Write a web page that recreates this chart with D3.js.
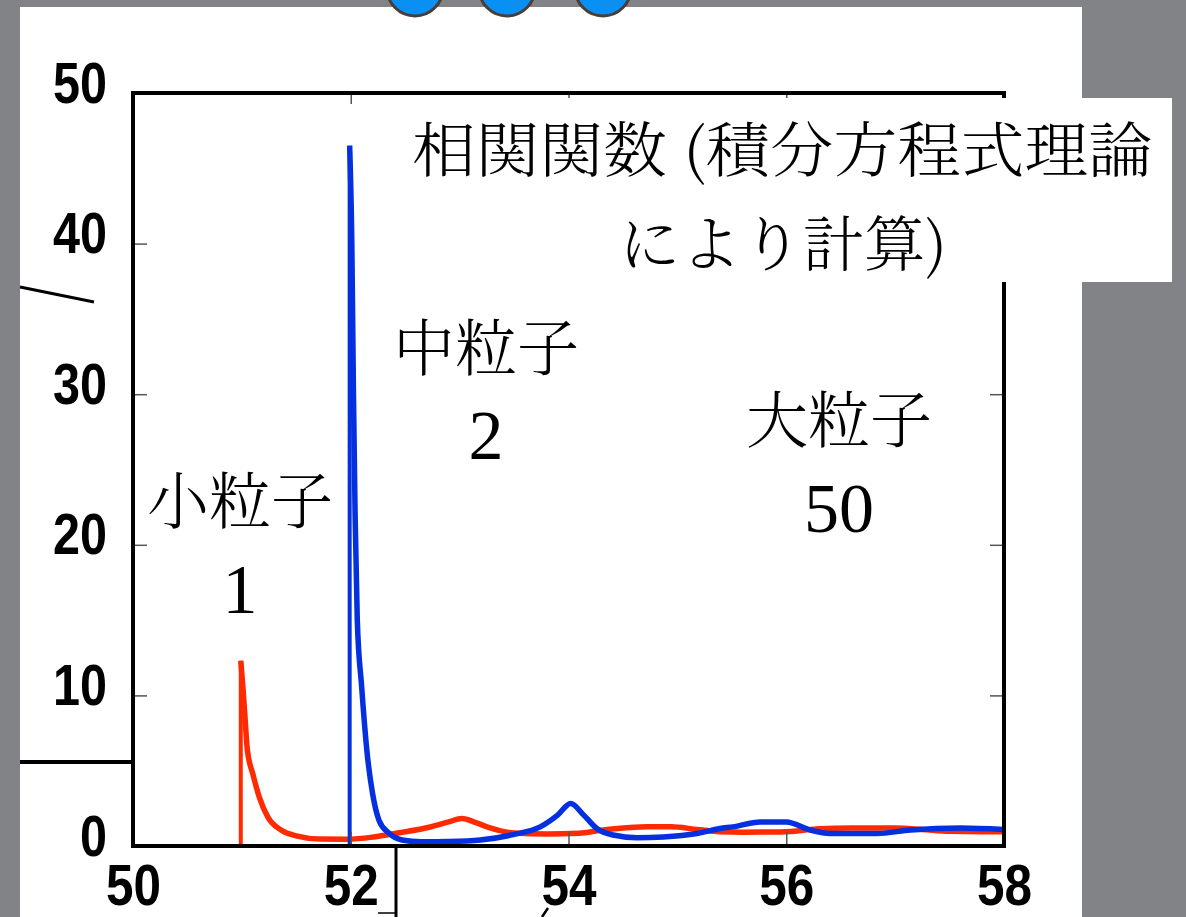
<!DOCTYPE html>
<html>
<head>
<meta charset="utf-8">
<script src="https://cdn.jsdelivr.net/npm/d3@7"></script>
<style>
  html, body { margin: 0; padding: 0; background: #818386; }
  svg { display: block; }
</style>
</head>
<body>
<svg id="chart" width="1186" height="917"></svg>
<script>
// ---------- data ----------
const xTicks = [50, 52, 54, 56, 58];
const yTicks = [0, 10, 20, 30, 40, 50];
const xDomain = [50, 58];
const yDomain = [0, 50];

// small particle (diameter 1) correlation function – red
const smallR = [50.99, 50.99, 51.01, 51.03, 51.05, 51.10, 51.16, 51.24, 51.36, 51.51, 51.72, 51.97,
  52.21, 52.43, 52.73, 52.90, 53.02, 53.15, 53.28, 53.50, 53.80, 54.10, 54.30, 54.45, 54.72,
  54.94, 55.18, 55.39, 55.60, 55.90, 56.10, 56.30, 56.60, 57.00, 57.25, 57.50, 57.80, 58.00];
const smallG = [0, 12.3, 10.5, 8.4, 6.4, 4.8, 3.25, 1.9, 1.06, 0.66, 0.46, 0.45,
  0.6, 0.86, 1.26, 1.6, 1.83, 1.55, 1.2, 0.86, 0.8, 0.85, 1.05, 1.16, 1.27,
  1.27, 1.1, 0.95, 0.92, 0.93, 1.0, 1.15, 1.2, 1.2, 1.1, 0.98, 0.95, 0.95];

// medium particle (diameter 2) correlation function – blue
const mediumR = [51.99, 51.99, 52.01, 52.025, 52.04, 52.06, 52.10, 52.15, 52.20, 52.26, 52.35, 52.47,
  52.65, 52.90, 53.19, 53.50, 53.74, 53.90, 54.02, 54.14, 54.26, 54.41, 54.63, 54.87, 55.18,
  55.39, 55.51, 55.76, 56.00, 56.22, 56.40, 56.83, 57.14, 57.60, 58.00];
const mediumG = [0, 46.5, 40, 30, 22, 15, 10.6, 6.2, 3.5, 1.7, 0.86, 0.4,
  0.28, 0.3, 0.4, 0.77, 1.27, 2.05, 2.82, 2.05, 1.16, 0.73, 0.55, 0.6, 0.83,
  1.16, 1.27, 1.6, 1.6, 1.06, 0.83, 0.83, 1.06, 1.2, 1.1];

const titleLines = ["相関関数 (積分方程式理論", "により計算)"];
const particleNames = ["小粒子", "中粒子", "大粒子"];
const particleSizes = ["1", "2", "50"];

// ---------- layout ----------
const svg = d3.select("#chart");
const W = 1186, H = 917;
const plot = { left: 133, right: 1004, top: 93, bottom: 846 };

const x = d3.scaleLinear().domain(xDomain).range([plot.left, plot.right]);
const y = d3.scaleLinear().domain(yDomain).range([plot.bottom, plot.top]);

// background + white slide panel
svg.append("rect").attr("width", W).attr("height", H).attr("fill", "#818386");
svg.append("rect").attr("x", 20).attr("y", 7).attr("width", 1062).attr("height", H).attr("fill", "#ffffff");

// decorative circles at top
[415, 507, 603].forEach(cx => {
  svg.append("circle").attr("cx", cx).attr("cy", -12).attr("r", 28)
    .attr("fill", "#0a8ff2").attr("stroke", "#4a3d38").attr("stroke-width", 3);
});

// ---------- series ----------
// vertical jump at contact distance, then a smooth curve
const vLine = d3.line().x(d => x(d[0])).y(d => y(d[1]));
const cLine = d3.line().x(d => x(d[0])).y(d => y(d[1])).curve(d3.curveMonotoneX);
const series = [
  { r: smallR, g: smallG, color: "#ff2a00" },
  { r: mediumR, g: mediumG, color: "#0530e0" }
];
series.forEach(s => {
  const pts = s.r.map((r, i) => [r, s.g[i]]);
  const g = svg.append("g").attr("fill", "none").attr("stroke", s.color)
    .attr("stroke-linejoin", "round").attr("stroke-linecap", "butt");
  g.append("path").datum(pts.slice(0, 2)).attr("d", vLine).attr("stroke-width", 4);
  g.append("path").datum(pts.slice(1)).attr("d", cLine).attr("stroke-width", 5.5);
});

// ---------- axes (inward ticks) ----------
const tickColor = "#555";
function styleTicks(g) {
  g.select(".domain").remove();
  g.selectAll(".tick line").attr("stroke", tickColor).attr("stroke-width", 1.5);
}
const labelFont = "'Liberation Sans', Arial, sans-serif";

const gLeft = svg.append("g").attr("transform", `translate(${plot.left},0)`)
  .call(d3.axisLeft(y).tickValues(yTicks).tickSizeInner(-14).tickSizeOuter(0).tickPadding(26));
styleTicks(gLeft);
gLeft.selectAll("text")
  .attr("dy", 9)
  .attr("font-family", labelFont).attr("font-weight", "bold").attr("font-size", 58)
  .attr("fill", "#000")
  .attr("textLength", d => String(d).length * 27)
  .attr("lengthAdjust", "spacingAndGlyphs");

const gBottom = svg.append("g").attr("transform", `translate(0,${plot.bottom})`)
  .call(d3.axisBottom(x).tickValues(xTicks).tickSizeInner(-14).tickSizeOuter(0).tickPadding(0));
styleTicks(gBottom);
gBottom.selectAll("text")
  .attr("dy", 0).attr("y", 59)
  .attr("font-family", labelFont).attr("font-weight", "bold").attr("font-size", 58)
  .attr("fill", "#000")
  .attr("textLength", d => String(d).length * 27.5)
  .attr("lengthAdjust", "spacingAndGlyphs");

const gRight = svg.append("g").attr("transform", `translate(${plot.right},0)`)
  .call(d3.axisRight(y).tickValues(yTicks).tickSizeInner(-14).tickSizeOuter(0).tickFormat(""));
styleTicks(gRight);

const gTop = svg.append("g").attr("transform", `translate(0,${plot.top})`)
  .call(d3.axisTop(x).tickValues(xTicks).tickSizeInner(-11).tickSizeOuter(0).tickFormat(""));
styleTicks(gTop);

// frame
svg.append("rect")
  .attr("x", plot.left).attr("y", plot.top)
  .attr("width", plot.right - plot.left).attr("height", plot.bottom - plot.top)
  .attr("fill", "none").attr("stroke", "#000").attr("stroke-width", 4);

// ---------- title box ----------
svg.append("rect").attr("x", 400).attr("y", 98).attr("width", 772).attr("height", 184).attr("fill", "#fff");
const cjk = "'Noto Serif CJK JP', 'Noto Sans CJK JP', sans-serif";
svg.append("text").attr("x", 412).attr("y", 172)
  .attr("font-family", cjk).attr("font-weight", 300).attr("font-size", 60)
  .attr("textLength", 740).attr("lengthAdjust", "spacingAndGlyphs")
  .attr("fill", "#000").text(titleLines[0]);
svg.append("text").attr("x", 619).attr("y", 266)
  .attr("font-family", cjk).attr("font-weight", 300).attr("font-size", 60)
  .attr("textLength", 328).attr("lengthAdjust", "spacingAndGlyphs")
  .attr("fill", "#000").text(titleLines[1]);

// ---------- particle labels ----------
const labelPos = [
  { cx: 240, nameY: 524, sizeY: 613 },
  { cx: 486, nameY: 371, sizeY: 459 },
  { cx: 839, nameY: 443, sizeY: 532 }
];
labelPos.forEach((p, i) => {
  svg.append("text").attr("x", p.cx).attr("y", p.nameY).attr("text-anchor", "middle")
    .attr("font-family", cjk).attr("font-weight", 300).attr("font-size", 62)
    .attr("textLength", 186).attr("lengthAdjust", "spacingAndGlyphs")
    .attr("fill", "#000").text(particleNames[i]);
  svg.append("text").attr("x", p.cx).attr("y", p.sizeY).attr("text-anchor", "middle")
    .attr("font-family", "'Liberation Serif', 'Times New Roman', serif").attr("font-size", 70)
    .attr("fill", "#000").text(particleSizes[i]);
});

// ---------- stray slide decorations ----------
const deco = svg.append("g").attr("stroke", "#000").attr("fill", "none");
deco.append("line").attr("x1", 20).attr("y1", 287).attr("x2", 94).attr("y2", 302).attr("stroke-width", 3);
deco.append("line").attr("x1", 20).attr("y1", 762).attr("x2", 133).attr("y2", 762).attr("stroke-width", 4);
deco.append("line").attr("x1", 396).attr("y1", 848).attr("x2", 396).attr("y2", 917).attr("stroke-width", 3);
deco.append("line").attr("x1", 378).attr("y1", 913).attr("x2", 395).attr("y2", 913).attr("stroke-width", 1.5);
deco.append("line").attr("x1", 548).attr("y1", 908).attr("x2", 542).attr("y2", 917).attr("stroke-width", 2.5);
</script>
</body>
</html>
